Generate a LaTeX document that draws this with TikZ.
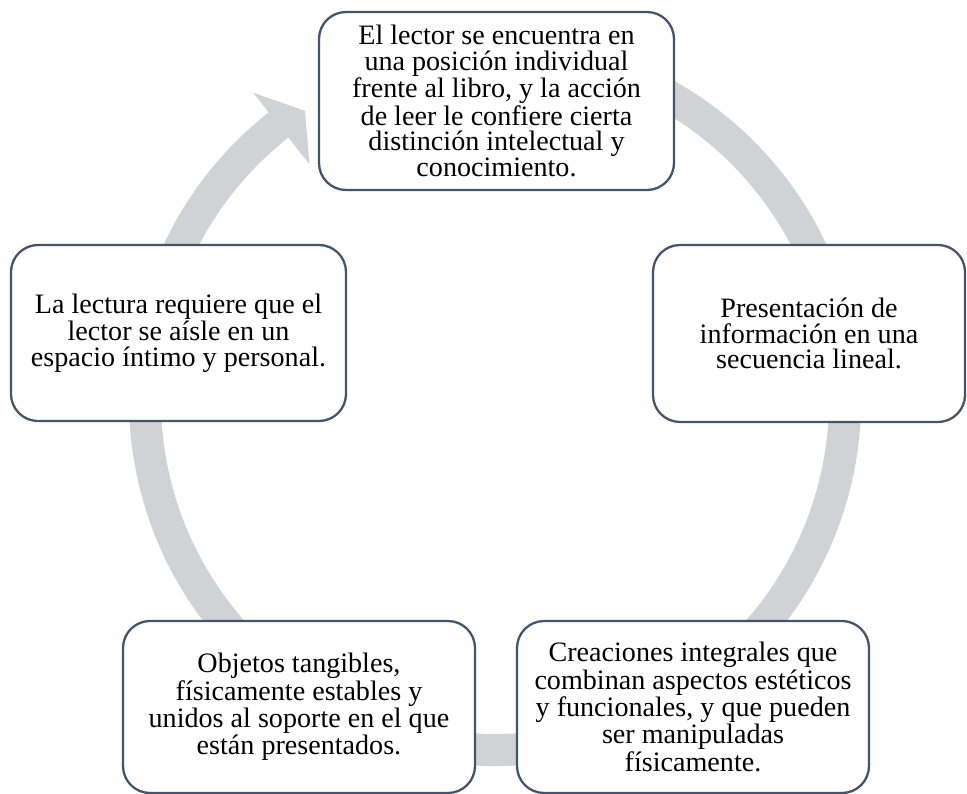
\documentclass[tikz,border=0pt]{standalone}
\usepackage{fontspec}
\setmainfont{LiberationSerif}[Extension=.ttf, UprightFont=*-Regular,
    BoldFont=*-Bold, ItalicFont=*-Italic, BoldItalicFont=*-BoldItalic]
\usetikzlibrary{calc}

\definecolor{ringgray}{RGB}{208,210,214}
\definecolor{boxline}{RGB}{68,84,106}

\begin{document}
\begin{tikzpicture}[
        caja/.style={draw=boxline, line width=1.3pt, rounded corners=0.54cm,
            fill=white, align=center, inner sep=0pt,
            font=\fontsize{16}{14.5}\selectfont}
    ]
    \useasboundingbox (0, 0) rectangle (19.34, -15.88);
    \coordinate (c) at (9.9, -8.0);
    \fill[ringgray]
        ($(c)+(100:7.32)$) arc[start angle=100, end angle=-231.8, radius=7.32]
        -- ($(c)+(128.2:7.82)$) -- ($(c)+(123.3:6.92)$) -- ($(c)+(128.2:6.0)$)
        -- ($(c)+(128.2:6.68)$) arc[start angle=-231.8, end angle=100, radius=6.68]
        -- cycle;
    \node[caja, minimum width=7.1cm, minimum height=3.56cm] (lector) at (9.93, -2.02)
        {El lector se encuentra en\\una posición individual\\frente al libro, y la acción\\de leer le confiere cierta\\distinción intelectual y\\conocimiento.};
    \node[caja, minimum width=6.24cm, minimum height=3.54cm] (secuencia) at (16.18, -6.67)
        {Presentación de\\información en una\\secuencia lineal.};
    \node[caja, minimum width=7.04cm, minimum height=3.44cm] (creaciones) at (13.86, -14.14)
        {Creaciones integrales que\\combinan aspectos estéticos\\y funcionales, y que pueden\\ser manipuladas\\físicamente.};
    \node[caja, minimum width=7.04cm, minimum height=3.44cm] (objetos) at (5.98, -14.14)
        {Objetos tangibles,\\físicamente estables y\\unidos al soporte en el que\\están presentados.};
    \node[caja, minimum width=6.7cm, minimum height=3.52cm] (aislamiento) at (3.57, -6.66)
        {La lectura requiere que el\\lector se aísle en un\\espacio íntimo y personal.};
\end{tikzpicture}
\end{document}
